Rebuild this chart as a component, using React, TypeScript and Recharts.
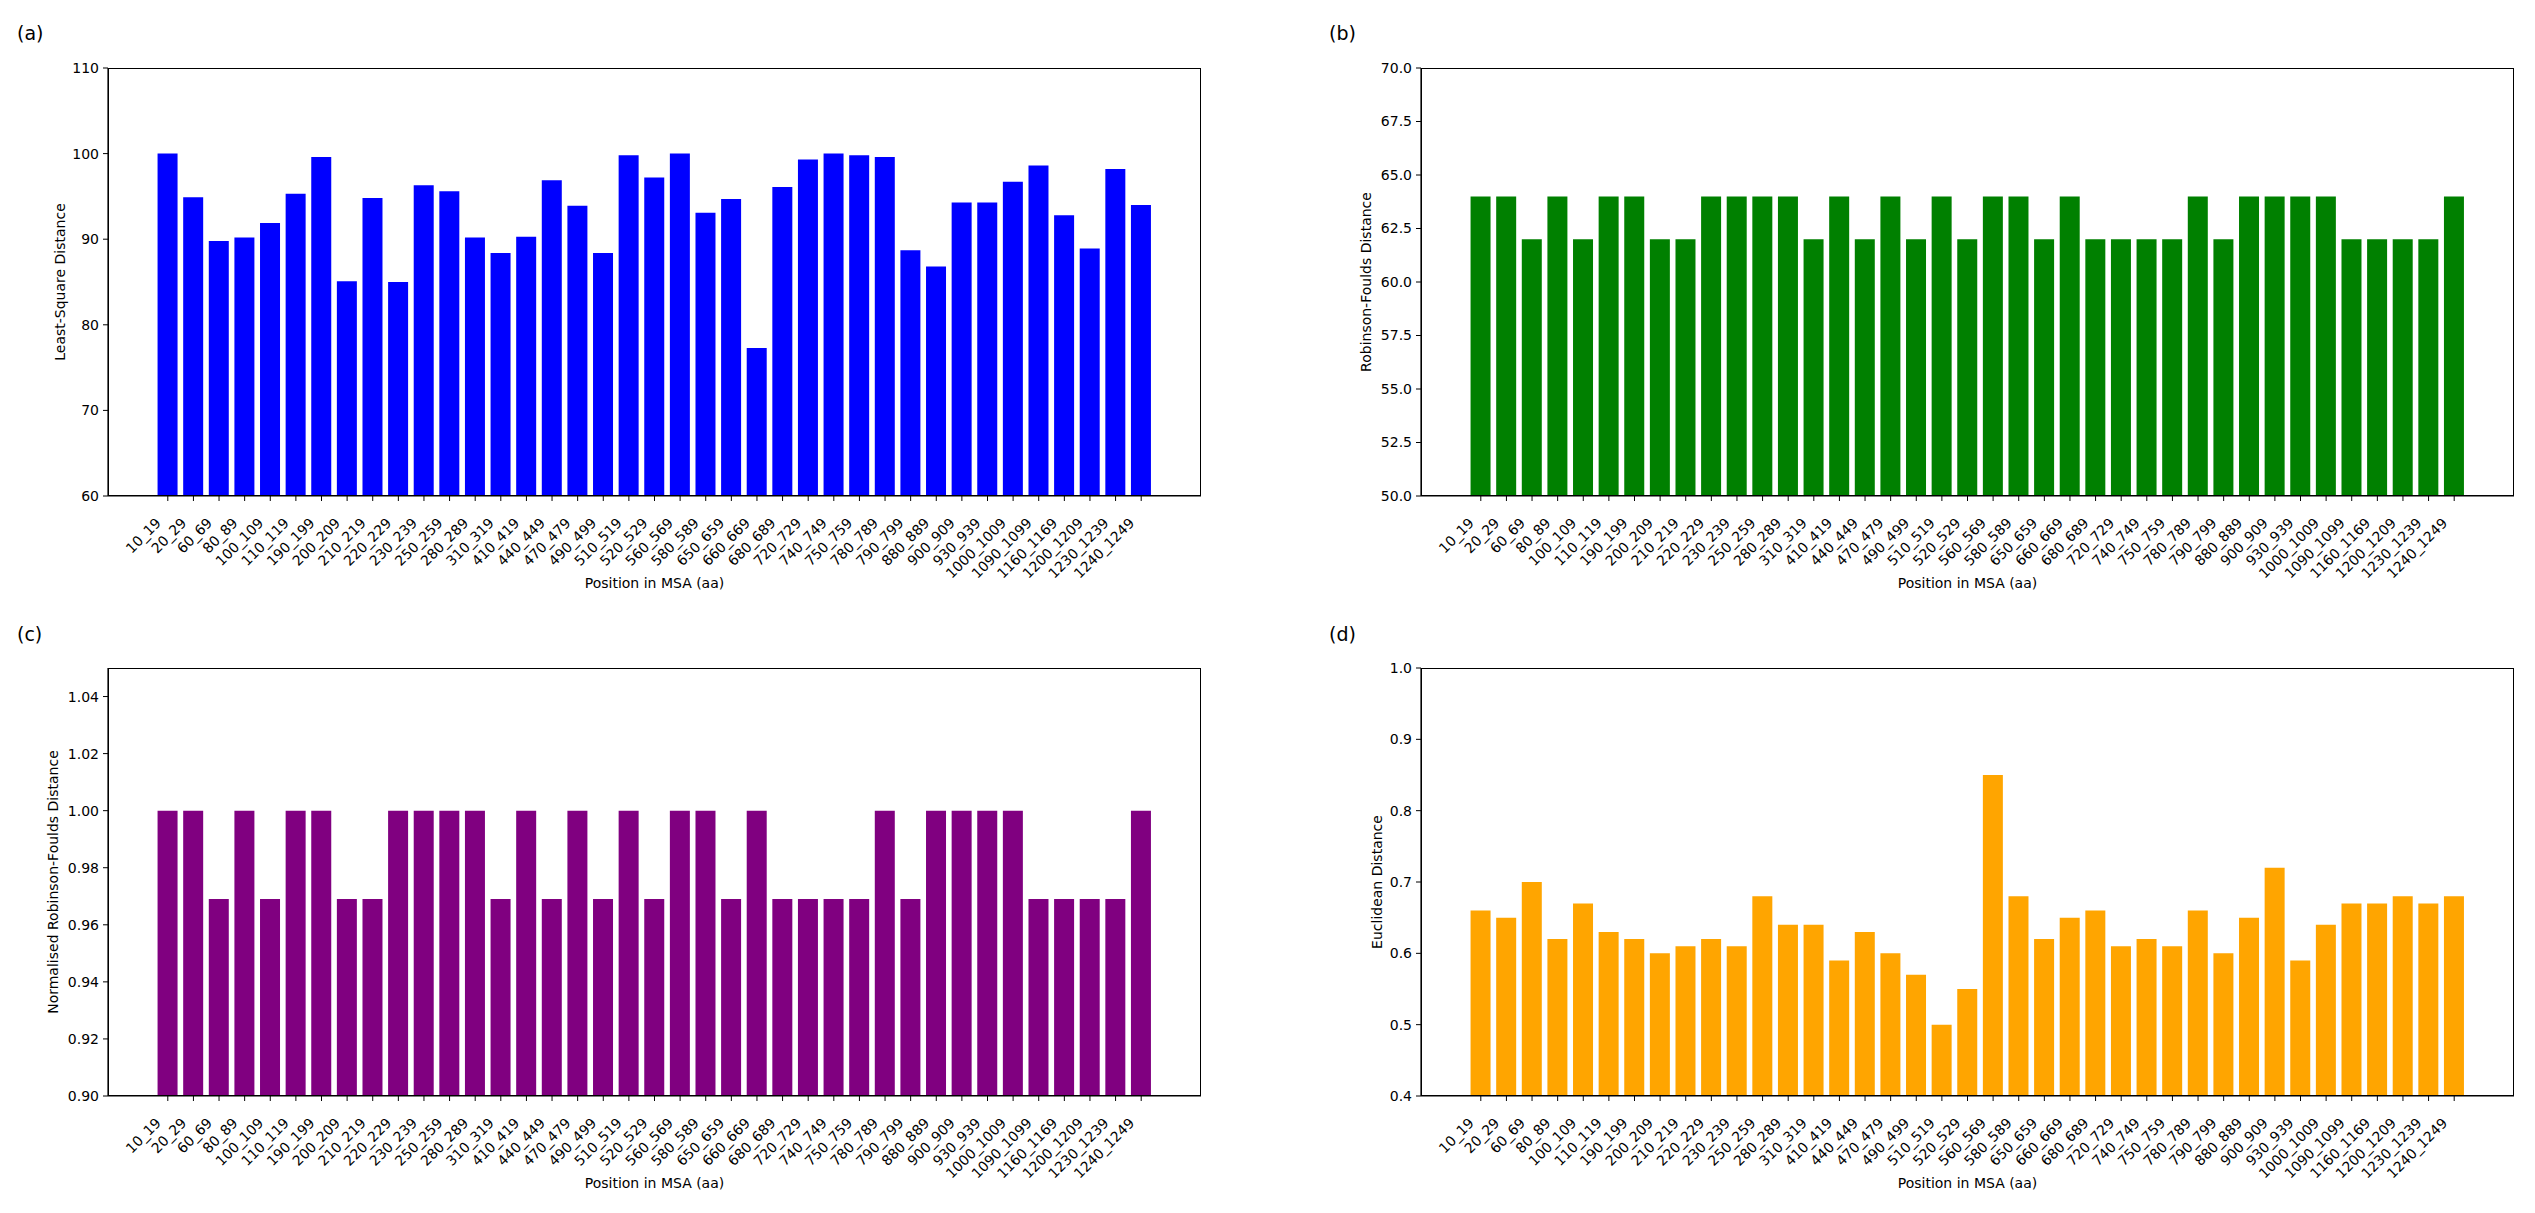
import React from 'react';
import { BarChart, Bar, XAxis, YAxis } from 'recharts';

const categories = [
  '10_19', '20_29', '60_69', '80_89', '100_109', '110_119', '190_199', '200_209', '210_219', '220_229',
  '230_239', '250_259', '280_289', '310_319', '410_419', '440_449', '470_479', '490_499', '510_519', '520_529',
  '560_569', '580_589', '650_659', '660_669', '680_689', '720_729', '740_749', '750_759', '780_789', '790_799',
  '880_889', '900_909', '930_939', '1000_1009', '1090_1099', '1160_1169', '1200_1209', '1230_1239', '1240_1249',
];

const leastSquare = [
  100.0, 94.9, 89.8, 90.2, 91.9, 95.3, 99.6, 85.1, 94.8, 85.0,
  96.3, 95.6, 90.2, 88.4, 90.3, 96.9, 93.9, 88.4, 99.8, 97.2,
  100.0, 93.1, 94.7, 77.3, 96.1, 99.3, 100.0, 99.8, 99.6, 88.7,
  86.8, 94.3, 94.3, 96.7, 98.6, 92.8, 88.9, 98.2, 94.0,
];

const robinsonFoulds = [
  64, 64, 62, 64, 62, 64, 64, 62, 62, 64,
  64, 64, 64, 62, 64, 62, 64, 62, 64, 62,
  64, 64, 62, 64, 62, 62, 62, 62, 64, 62,
  64, 64, 64, 64, 62, 62, 62, 62, 64,
];

const normalisedRF = [
  1.0, 1.0, 0.969, 1.0, 0.969, 1.0, 1.0, 0.969, 0.969, 1.0,
  1.0, 1.0, 1.0, 0.969, 1.0, 0.969, 1.0, 0.969, 1.0, 0.969,
  1.0, 1.0, 0.969, 1.0, 0.969, 0.969, 0.969, 0.969, 1.0, 0.969,
  1.0, 1.0, 1.0, 1.0, 0.969, 0.969, 0.969, 0.969, 1.0,
];

const euclidean = [
  0.66, 0.65, 0.70, 0.62, 0.67, 0.63, 0.62, 0.60, 0.61, 0.62,
  0.61, 0.68, 0.64, 0.64, 0.59, 0.63, 0.60, 0.57, 0.50, 0.55,
  0.85, 0.68, 0.62, 0.65, 0.66, 0.61, 0.62, 0.61, 0.66, 0.60,
  0.65, 0.72, 0.59, 0.64, 0.67, 0.67, 0.68, 0.67, 0.68,
];

const ticksA = [60, 70, 80, 90, 100, 110];
const ticksB = [50, 52.5, 55, 57.5, 60, 62.5, 65, 67.5, 70];
const ticksC = [0.9, 0.92, 0.94, 0.96, 0.98, 1.0, 1.02, 1.04];
const ticksD = [0.4, 0.5, 0.6, 0.7, 0.8, 0.9, 1.0];

const FONT = 'DejaVu Sans, sans-serif';

const XTick = (props: any) => {
  const { x, y, payload } = props;
  return (
    <g transform={`translate(${x - 6},${y + 21})`}>
      <text x={0} y={0} transform="rotate(-45)" textAnchor="end" fontSize={14} fontFamily={FONT} fill="#000">
        {payload.value}
      </text>
    </g>
  );
};

type PanelProps = {
  left: number;
  top: number;
  yAxisWidth: number;
  values: number[];
  color: string;
  domain: [number, number];
  ticks: number[];
  fmt: (v: number) => string;
  yLabel: string;
  yLabelX: number;
  letter: string;
  letterX: number;
  letterY: number;
};

const PLOT_W = 1093;
const PLOT_H = 428;
const TOP_MARGIN = 68;
const CHART_H = 610;

function Panel(p: PanelProps) {
  const data = categories.map((c, i) => ({ name: c, value: p.values[i] }));
  const chartW = p.yAxisWidth + PLOT_W + 20;
  const plotLeft = p.left + p.yAxisWidth;
  const plotTop = p.top + TOP_MARGIN;
  return (
    <>
      <div style={{ position: 'absolute', left: p.left, top: p.top }}>
        <BarChart
          width={chartW}
          height={CHART_H}
          data={data}
          margin={{ top: TOP_MARGIN, right: 20, bottom: 0, left: 0 }}
          barCategoryGap="10%"
        >
          <XAxis
            dataKey="name"
            interval={0}
            tick={<XTick />}
            tickSize={5}
            tickLine={{ stroke: '#000' }}
            axisLine={{ stroke: '#000', strokeWidth: 1.2 }}
            height={CHART_H - TOP_MARGIN - PLOT_H}
            padding={{ left: 47, right: 47 }}
          />
          <YAxis
            type="number"
            domain={p.domain}
            ticks={p.ticks}
            allowDataOverflow
            width={p.yAxisWidth}
            tickSize={5}
            tickMargin={4}
            tickFormatter={p.fmt}
            tick={{ fill: '#000', fontSize: 14, fontFamily: FONT }}
            tickLine={{ stroke: '#000' }}
            axisLine={{ stroke: '#000', strokeWidth: 1.2 }}
            interval={0}
          />
          <Bar dataKey="value" fill={p.color} isAnimationActive={false} />
        </BarChart>
      </div>
      <div
        style={{
          position: 'absolute',
          left: plotLeft,
          top: plotTop,
          width: PLOT_W,
          height: PLOT_H,
          boxSizing: 'border-box',
          border: '1.2px solid #000',
          pointerEvents: 'none',
        }}
      />
      <div
        style={{
          position: 'absolute',
          left: p.yLabelX - 300,
          top: plotTop + PLOT_H / 2 - 10,
          width: 600,
          height: 20,
          lineHeight: '20px',
          textAlign: 'center',
          transform: 'rotate(-90deg)',
          fontFamily: FONT,
          fontSize: 14,
          color: '#000',
        }}
      >
        {p.yLabel}
      </div>
      <div
        style={{
          position: 'absolute',
          left: plotLeft,
          top: p.top + 583 - 10,
          width: PLOT_W,
          height: 20,
          lineHeight: '20px',
          textAlign: 'center',
          fontFamily: FONT,
          fontSize: 14,
          color: '#000',
        }}
      >
        Position in MSA (aa)
      </div>
      <div
        style={{
          position: 'absolute',
          left: p.letterX,
          top: p.letterY,
          fontFamily: FONT,
          fontSize: 19,
          lineHeight: '22px',
          color: '#000',
        }}
      >
        {p.letter}
      </div>
    </>
  );
}

export default function App() {
  return (
    <div style={{ position: 'absolute', left: 0, top: 0, width: 2535, height: 1213, background: '#fff', overflow: 'hidden' }}>
      <Panel
        left={0}
        top={0}
        yAxisWidth={108}
        values={leastSquare}
        color="#0000ff"
        domain={[60, 110]}
        ticks={ticksA}
        fmt={(v) => String(v)}
        yLabel="Least-Square Distance"
        yLabelX={60}
        letter="(a)"
        letterX={17}
        letterY={22}
      />
      <Panel
        left={1260}
        top={0}
        yAxisWidth={161}
        values={robinsonFoulds}
        color="#008000"
        domain={[50, 70]}
        ticks={ticksB}
        fmt={(v) => v.toFixed(1)}
        yLabel="Robinson-Foulds Distance"
        yLabelX={1366}
        letter="(b)"
        letterX={1329}
        letterY={22}
      />
      <Panel
        left={0}
        top={600}
        yAxisWidth={108}
        values={normalisedRF}
        color="#800080"
        domain={[0.9, 1.05]}
        ticks={ticksC}
        fmt={(v) => v.toFixed(2)}
        yLabel="Normalised Robinson-Foulds Distance"
        yLabelX={53}
        letter="(c)"
        letterX={17}
        letterY={623}
      />
      <Panel
        left={1260}
        top={600}
        yAxisWidth={161}
        values={euclidean}
        color="#ffa500"
        domain={[0.4, 1.0]}
        ticks={ticksD}
        fmt={(v) => v.toFixed(1)}
        yLabel="Euclidean Distance"
        yLabelX={1377}
        letter="(d)"
        letterX={1329}
        letterY={623}
      />
    </div>
  );
}
